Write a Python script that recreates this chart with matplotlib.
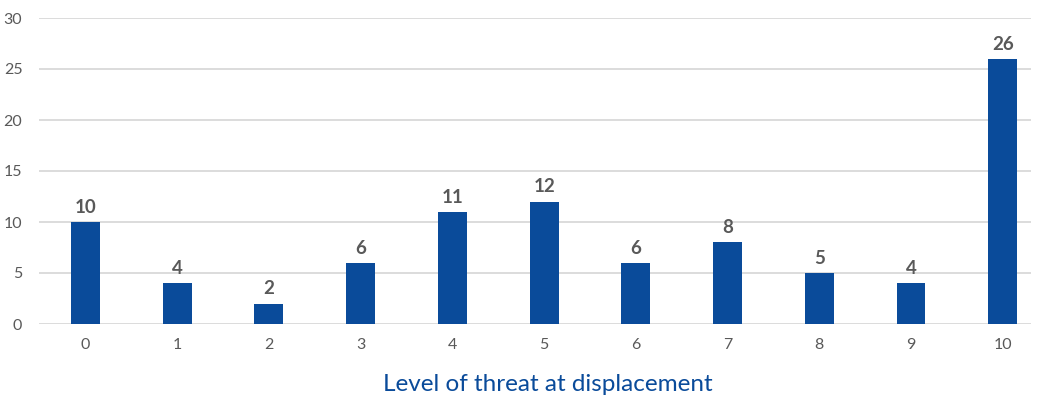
import matplotlib
matplotlib.use("Agg")
import matplotlib.pyplot as plt

categories = ["0", "1", "2", "3", "4", "5", "6", "7", "8", "9", "10"]
counts = [10, 4, 2, 6, 11, 12, 6, 8, 5, 4, 26]
y_ticks = [0, 5, 10, 15, 20, 25, 30]
x_label = "Level of threat at displacement"

bar_color = "#0A4B9A"
text_gray = "#595959"
grid_gray = "#D9D9D9"

plt.rcParams["font.family"] = ["Lato", "DejaVu Sans"]

fig = plt.figure(figsize=(10.4, 4.0), dpi=100)
ax = fig.add_axes([0.0375, 0.19, 0.954, 0.765])

x = list(range(len(categories)))
ax.bar(x, counts, width=0.316, color=bar_color, zorder=3)

for xi, v in zip(x, counts):
    ax.text(xi, v + 0.6, str(v), ha="center", va="bottom",
            fontsize=13.5, fontweight="bold", color=text_gray)

ax.set_xlim(-0.507, 10.31)
ax.set_ylim(0, 30)
ax.set_yticks(y_ticks)
ax.set_xticks(x)
ax.set_xticklabels(categories)
ax.tick_params(axis="both", length=0, labelsize=11.5, labelcolor=text_gray)
ax.tick_params(axis="x", pad=10)
ax.tick_params(axis="y", pad=12)

ax.grid(axis="y", color=grid_gray, linewidth=1.3, zorder=0)
for s in ax.spines.values():
    s.set_visible(False)

ax.set_xlabel(x_label, fontsize=17.5, color="#0A4B9A")
ax.xaxis.set_label_coords(0.513, -0.165)

fig.savefig("out.png", dpi=100, facecolor="white")
